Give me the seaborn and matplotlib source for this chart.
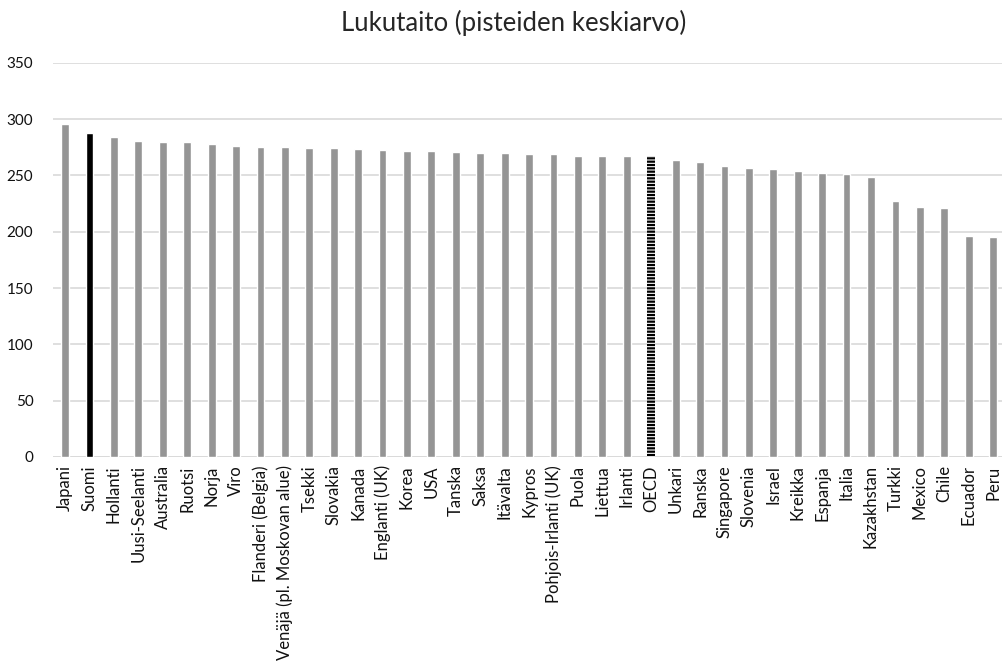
import matplotlib
matplotlib.use("Agg")
import matplotlib.pyplot as plt
import seaborn as sns
import pandas as pd

maat = [
    "Japani", "Suomi", "Hollanti", "Uusi-Seelanti", "Australia", "Ruotsi",
    "Norja", "Viro", "Flanderi (Belgia)", "Venäjä (pl. Moskovan alue)",
    "Tsekki", "Slovakia", "Kanada", "Englanti (UK)", "Korea", "USA",
    "Tanska", "Saksa", "Itävalta", "Kypros", "Pohjois-Irlanti (UK)",
    "Puola", "Liettua", "Irlanti", "OECD", "Unkari", "Ranska", "Singapore",
    "Slovenia", "Israel", "Kreikka", "Espanja", "Italia", "Kazakhstan",
    "Turkki", "Mexico", "Chile", "Ecuador", "Peru",
]
pisteet = [
    296, 288, 284, 281, 280, 279.5,
    278, 276, 275, 275,
    274, 274, 273.5, 272.5, 272, 272,
    271, 270, 270, 269, 269,
    267, 267, 267, 267, 264, 262, 258,
    256.5, 255.5, 254, 252, 251, 249,
    227, 222, 221, 196.5, 195.5,
]
yticks = [0, 50, 100, 150, 200, 250, 300, 350]

sns.set_theme(style="white")
plt.rcParams["font.family"] = ["Lato", "DejaVu Sans"]
plt.rcParams["hatch.linewidth"] = 1.6
plt.rcParams["hatch.color"] = "black"

df = pd.DataFrame({"maa": maat, "pisteet": pisteet})
varit = {m: "#959595" for m in maat}
varit["Suomi"] = "#000000"
varit["OECD"] = "#ffffff"

fig = plt.figure(figsize=(10.03, 6.69), dpi=100)
ax = fig.add_axes([0.0527, 0.317, 0.9496, 0.589])

sns.barplot(data=df, x="maa", y="pisteet", hue="maa", palette=varit,
            width=0.32, legend=False, ax=ax, saturation=1)

# OECD-palkki raidoitettuna
oecd = ax.patches[maat.index("OECD")]
oecd.set_hatch("-----")
oecd.set_edgecolor("black")
oecd.set_linewidth(0)

ax.set_ylim(0, 350)
ax.set_yticks(yticks)
ax.yaxis.grid(True, color="#d9d9d9", linewidth=1.2)
ax.set_axisbelow(True)
for s in ax.spines.values():
    s.set_visible(False)
ax.axhline(0, color="#d9d9d9", linewidth=1.2, zorder=0)

ax.set_xlabel("")
ax.set_ylabel("")
ax.tick_params(axis="x", rotation=90, labelsize=12, length=0, pad=6, colors="#111111")
ax.tick_params(axis="y", labelsize=11, length=0, pad=14, colors="#111111")
ax.set_xlim(-0.5, len(maat) - 0.5)

fig.suptitle("Lukutaito (pisteiden keskiarvo)", fontsize=18.5, x=0.512, y=0.985)

plt.savefig("out.png", dpi=100)
plt.close()
